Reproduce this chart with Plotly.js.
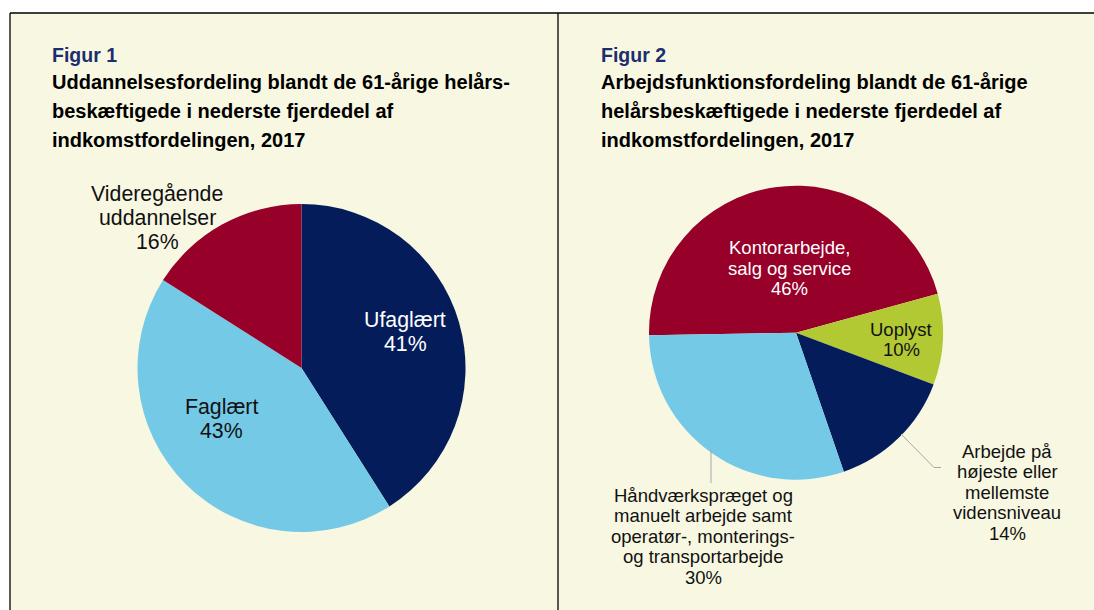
<!DOCTYPE html>
<html>
<head>
<meta charset="utf-8">
<script src="https://cdn.plot.ly/plotly-3.0.1.min.js"></script>
<style>html,body{margin:0;padding:0;background:#fff;}#chart{width:1094px;height:610px;}</style>
</head>
<body>
<div id="chart"></div>
<script>
// ---- data ----
const fig1Labels = ['Ufaglært', 'Faglært', 'Videregående<br>uddannelser'];
const fig1Values = [41, 43, 16];
const fig2Labels = ['Kontorarbejde,<br>salg og service', 'Uoplyst', 'Arbejde på<br>højeste eller<br>mellemste<br>vidensniveau', 'Håndværkspræget og<br>manuelt arbejde samt<br>operatør-, monterings-<br>og transportarbejde'];
const fig2Values = [46, 10, 14, 30];
const fig1Heading = 'Figur 1';
const fig1Title = ['Uddannelsesfordeling blandt de 61-årige helårs-', 'beskæftigede i nederste fjerdedel af', 'indkomstfordelingen, 2017'];
const fig2Heading = 'Figur 2';
const fig2Title = ['Arbejdsfunktionsfordeling blandt de 61-årige', 'helårsbeskæftigede i nederste fjerdedel af', 'indkomstfordelingen, 2017'];

// ---- styling / layout ----
const W = 1094, H = 610;
const px = x => x / W;
const py = y => 1 - y / H;
const NAVY = '#041D5A', LBLUE = '#74C9E6', RED = '#960029', LIME = '#B3C934';
const CREAM = '#F8F8E2';
const FONT = '"Liberation Sans", Arial, sans-serif';

function pieDomain(cx, cy, r) {
  return {x: [px(cx - r), px(cx + r)], y: [py(cy + r), py(cy - r)]};
}

const traces = [
  {
    type: 'pie', labels: fig1Labels, values: fig1Values, sort: false,
    direction: 'clockwise', rotation: 0, textinfo: 'none', hoverinfo: 'none',
    marker: {colors: [NAVY, LBLUE, RED], line: {width: 0}},
    domain: pieDomain(301.5, 368, 164), showlegend: false
  },
  {
    type: 'pie', labels: fig2Labels, values: fig2Values, sort: false,
    direction: 'clockwise', rotation: -91, textinfo: 'none', hoverinfo: 'none',
    marker: {colors: [RED, LIME, NAVY, LBLUE], line: {width: 0}},
    domain: pieDomain(796, 332.7, 147), showlegend: false
  }
];

const annotations = [];
function addLine(text, x, baseline, size, color, anchor, bold) {
  annotations.push({
    text: bold ? '<b>' + text + '</b>' : text,
    xref: 'paper', yref: 'paper',
    x: px(x), y: py(baseline - 0.35 * size),
    xanchor: anchor, yanchor: 'middle', showarrow: false, borderpad: 0,
    font: {family: FONT, size: size, color: color}
  });
}
function addLabel(label, value, cx, baseline, size, spacing, color) {
  const lines = label.split('<br>').concat([value + '%']);
  lines.forEach((ln, i) => addLine(ln, cx, baseline + i * spacing, size, color, 'center', false));
}

// headings
addLine(fig1Heading, 51, 62, 19.5, '#1C2E6E', 'left', true);
fig1Title.forEach((t, i) => addLine(t, 51, 89.5 + i * 28.5, 20, '#000', 'left', true));
addLine(fig2Heading, 599.5, 62, 19.5, '#1C2E6E', 'left', true);
fig2Title.forEach((t, i) => addLine(t, 599.5, 89.5 + i * 28.5, 20, '#000', 'left', true));

// figure 1 labels
const pos1 = [[405, 327.5, '#fff'], [221, 414, '#111'], [157, 201, '#111']];
fig1Labels.forEach((l, i) => addLabel(l, fig1Values[i], pos1[i][0], pos1[i][1], 21.3, 24.3, pos1[i][2]));
// figure 2 labels
const pos2 = [[789.5, 254, '#fff'], [901, 335.5, '#111'], [1007, 457.5, '#111'], [703, 501.5, '#111']];
fig2Labels.forEach((l, i) => addLabel(l, fig2Values[i], pos2[i][0], pos2[i][1], 18.5, 20.6, pos2[i][2]));

const BL = {color: '#000', width: 1.3};
const GL = {color: '#A6A6A6', width: 1};
const shapes = [
  {type: 'rect', xref: 'paper', yref: 'paper', x0: px(10), x1: px(1094), y0: py(610), y1: py(13), fillcolor: CREAM, line: {width: 0}, layer: 'below'},
  {type: 'line', xref: 'paper', yref: 'paper', x0: px(10), x1: px(1094), y0: py(13), y1: py(13), line: BL},
  {type: 'line', xref: 'paper', yref: 'paper', x0: px(10), x1: px(10), y0: py(13), y1: py(610), line: BL},
  {type: 'line', xref: 'paper', yref: 'paper', x0: px(558), x1: px(558), y0: py(13), y1: py(610), line: BL},
  // leader lines
  {type: 'line', xref: 'paper', yref: 'paper', x0: px(711), x1: px(711), y0: py(450), y1: py(483), line: GL},
  {type: 'path', xref: 'paper', yref: 'paper', path: 'M' + px(901) + ',' + py(434) + ' L' + px(934) + ',' + py(467.5) + ' L' + px(941) + ',' + py(467.5), line: GL}
];

const layout = {
  width: W, height: H,
  margin: {l: 0, r: 0, t: 0, b: 0},
  paper_bgcolor: '#fff',
  showlegend: false,
  annotations: annotations,
  shapes: shapes,
  font: {family: FONT}
};

Plotly.newPlot('chart', traces, layout, {displayModeBar: false, staticPlot: true});
</script>
</body>
</html>
